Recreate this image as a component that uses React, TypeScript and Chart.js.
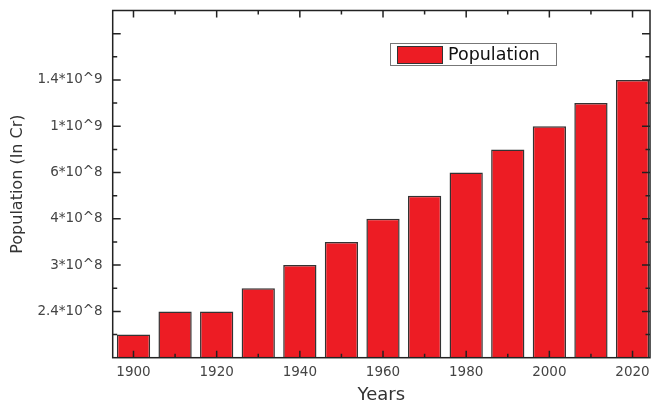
import React, { useEffect, useRef } from 'react';
import { Chart, registerables } from 'chart.js';

Chart.register(...registerables);

// ---- data ----
const years = [1900, 1910, 1920, 1930, 1940, 1950, 1960, 1970, 1980, 1990, 2000, 2010, 2020];
const population = [0.5, 1, 1, 1.5, 2, 2.5, 3, 3.5, 4, 4.5, 5, 5.5, 6];
const yTickLabels = ['', '2.4*10^8', '3*10^8', '4*10^8', '6*10^8', '1*10^9', '1.4*10^9', ''];
const xTickYears = [1900, 1920, 1940, 1960, 1980, 2000, 2020];
const seriesLabel = 'Population';
const xTitle = 'Years';
const yTitle = 'Population (In Cr)';

const FONT = '"DejaVu Sans", Arial, "Liberation Sans", sans-serif';
const RED = '#ED1C24';

const framePlugin = {
  id: 'frameTicks',
  afterDatasetsDraw(chart: any) {
    const { ctx, chartArea: a, scales } = chart;
    const x = scales.x;
    const y = scales.y;
    ctx.save();
    ctx.strokeStyle = '#222';
    ctx.lineWidth = 1.5;
    ctx.beginPath();
    // y ticks (left & right, inward)
    y.ticks.forEach((t: any) => {
      const v = t.value;
      if (v <= y.min || v >= y.max) return;
      const py = y.getPixelForValue(v);
      const len = Number.isInteger(v) ? 8 : 4.5;
      ctx.moveTo(a.left, py);
      ctx.lineTo(a.left + len, py);
      ctx.moveTo(a.right, py);
      ctx.lineTo(a.right - len, py);
    });
    // x ticks (bottom & top, inward)
    years.forEach((yr) => {
      const px = x.getPixelForValue(yr);
      const len = xTickYears.includes(yr) ? 7 : 4;
      ctx.moveTo(px, a.bottom);
      ctx.lineTo(px, a.bottom - len);
      ctx.moveTo(px, a.top);
      ctx.lineTo(px, a.top + len);
    });
    ctx.stroke();
    ctx.strokeRect(a.left, a.top, a.right - a.left, a.bottom - a.top);
    ctx.restore();
  },
  afterDraw(chart: any) {
    const { ctx } = chart;
    const ds = chart.data.datasets[0];
    ctx.save();
    ctx.fillStyle = '#fff';
    ctx.fillRect(390.5, 43.5, 166, 22);
    ctx.strokeStyle = '#777';
    ctx.lineWidth = 1;
    ctx.strokeRect(390.5, 43.5, 166, 22);
    ctx.fillStyle = ds.backgroundColor;
    ctx.fillRect(397, 46.5, 45, 17);
    ctx.strokeStyle = '#333';
    ctx.lineWidth = 1;
    ctx.strokeRect(397.5, 46.5, 45, 17);
    ctx.fillStyle = '#111';
    ctx.font = `17.5px ${FONT}`;
    ctx.textBaseline = 'middle';
    ctx.textAlign = 'left';
    ctx.fillText(ds.label, 448, 55.5);
    ctx.restore();
  },
};

export default function App() {
  const ref = useRef<HTMLCanvasElement>(null);

  useEffect(() => {
    if (!ref.current) return;
    const chart = new Chart(ref.current, {
      type: 'bar',
      data: {
        datasets: [
          {
            label: seriesLabel,
            data: years.map((yr, i) => ({ x: yr, y: population[i] })),
            backgroundColor: RED,
            borderColor: '#333',
            borderWidth: 1.5,
            barPercentage: 0.8,
            categoryPercentage: 1,
          },
        ],
      },
      options: {
        animation: false,
        responsive: false,
        maintainAspectRatio: false,
        layout: { padding: { top: 10.5, right: 2, left: 0, bottom: 0 } },
        plugins: {
          legend: { display: false },
          tooltip: { enabled: false },
        },
        scales: {
          x: {
            type: 'linear',
            min: 1895,
            max: 2024.2,
            offset: false,
            grid: { display: false, drawTicks: false },
            border: { display: false },
            afterBuildTicks: (scale: any) => {
              scale.ticks = xTickYears.map((v) => ({ value: v }));
            },
            afterFit: (scale: any) => {
              scale.height = 50.3;
              scale.paddingLeft = 0;
              scale.paddingRight = 0;
            },
            ticks: {
              padding: 7,
              color: '#444',
              font: { family: FONT, size: 13.5 },
              maxRotation: 0,
              autoSkip: false,
              callback: (v: any) => String(v),
            },
            title: {
              display: true,
              text: xTitle,
              color: '#333',
              font: { family: FONT, size: 18 },
              padding: { top: 0, bottom: 1.5 },
            },
          },
          y: {
            type: 'linear',
            min: 0,
            max: 7.5,
            grid: { display: false, drawTicks: false },
            border: { display: false },
            afterFit: (scale: any) => {
              scale.width = 112.7;
              scale.paddingTop = 0;
              scale.paddingBottom = 0;
            },
            ticks: {
              stepSize: 0.5,
              padding: 10,
              color: '#444',
              font: { family: FONT, size: 13.5 },
              autoSkip: false,
              callback: (v: any) => {
                const n = Number(v);
                return Number.isInteger(n) ? yTickLabels[n] ?? '' : '';
              },
            },
            title: {
              display: true,
              text: yTitle,
              color: '#333',
              font: { family: FONT, size: 16 },
              padding: { top: 8, bottom: 0 },
            },
          },
        },
      },
      plugins: [framePlugin],
    } as any);
    return () => chart.destroy();
  }, []);

  return (
    <div
      style={{
        position: 'fixed',
        left: 0,
        top: 0,
        width: 652,
        height: 408,
        background: '#fff',
        overflow: 'hidden',
      }}
    >
      <canvas ref={ref} width={652} height={408} style={{ display: 'block', width: 652, height: 408 }} />
    </div>
  );
}
